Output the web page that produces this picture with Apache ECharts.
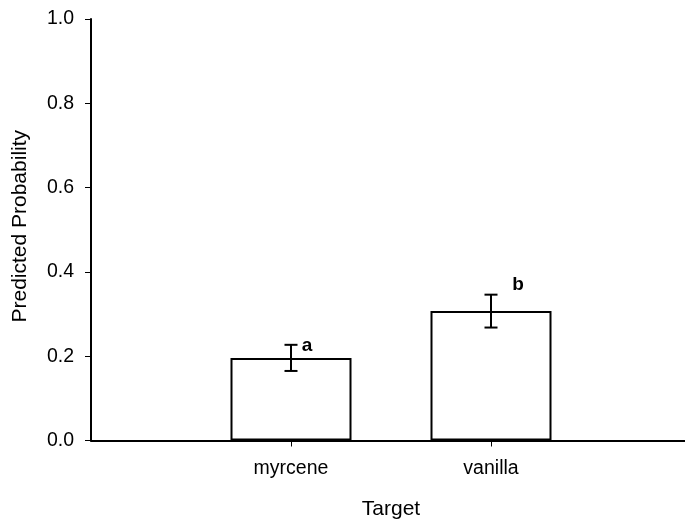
<!DOCTYPE html>
<html>
<head>
<meta charset="utf-8">
<style>
  html, body { margin: 0; padding: 0; background: #fff; }
  #chart { width: 685px; height: 521px; }
</style>
<script src="https://cdn.jsdelivr.net/npm/echarts@6/dist/echarts.min.js"></script>
</head>
<body>
<div id="chart"></div>
<script>
// Target categories (blank slots pad the axis on both ends)
const categories = ['', 'myrcene', 'vanilla', ''];
// Predicted probability for each target
const probabilities = [null, 0.196, 0.307, null];
// Standard error for each target
const stdErrors = [null, 0.031, 0.039, null];
// Significance letters
const groupLetters = [null, 'a', 'b', null];
// Y-axis tick values
const yTicks = [0, 0.2, 0.4, 0.6, 0.8, 1.0];

// Letter placement relative to the top of each error bar, in pixels
const letterOffsets = [null, [16, 1], [27, -10], null];

const FONT = "'Liberation Sans', Arial, sans-serif";
const chart = echarts.init(document.getElementById('chart'));

const errorData = categories.map((c, i) =>
  probabilities[i] == null ? null : [i, probabilities[i] - stdErrors[i], probabilities[i] + stdErrors[i]]
).filter(d => d);

chart.setOption({
  animation: false,
  backgroundColor: '#fff',
  textStyle: { fontFamily: FONT, color: '#000' },
  grid: { left: 91, top: 19, width: 600, bottom: 80.5, containLabel: false, outerBoundsMode: 'none' },
  xAxis: {
    type: 'category',
    data: categories,
    boundaryGap: false,
    name: 'Target',
    nameLocation: 'middle',
    nameGap: 58,
    nameTextStyle: { fontSize: 21, color: '#000', fontFamily: FONT },
    axisLine: { lineStyle: { color: '#000', width: 2 } },
    axisTick: {
      length: 6,
      lineStyle: { color: '#000', width: 1 },
      interval: (idx, val) => val !== ''
    },
    axisLabel: { interval: 0, margin: 18, fontSize: 19.5, color: '#000', fontFamily: FONT },
    splitLine: { show: false }
  },
  yAxis: {
    type: 'value',
    min: yTicks[0],
    max: yTicks[yTicks.length - 1],
    interval: yTicks[1] - yTicks[0],
    name: 'Predicted Probability',
    nameLocation: 'middle',
    nameGap: 60,
    nameTextStyle: { fontSize: 21, color: '#000', fontFamily: FONT, padding: [0, 0, 0, 7] },
    axisLine: { show: true, lineStyle: { color: '#000', width: 2 } },
    axisTick: { show: true, length: 6, lineStyle: { color: '#000', width: 1 } },
    axisLabel: { margin: 17, fontSize: 19.5, color: '#000', fontFamily: FONT, formatter: v => v.toFixed(1) },
    splitLine: { show: false }
  },
  series: [
    {
      type: 'bar',
      data: probabilities.map(v => (v == null ? '-' : v)),
      barWidth: 121,
      itemStyle: { color: '#fff', borderColor: '#000', borderWidth: 2 },
      z: 2
    },
    {
      type: 'custom',
      data: errorData,
      z: 3,
      renderItem: (params, api) => {
        const idx = api.value(0);
        const lo = api.coord([idx, api.value(1)]);
        const hi = api.coord([idx, api.value(2)]);
        const cap = 6.5;
        const style = { stroke: '#000', lineWidth: 2 };
        const children = [
          { type: 'line', shape: { x1: hi[0], y1: hi[1], x2: lo[0], y2: lo[1] }, style },
          { type: 'line', shape: { x1: hi[0] - cap, y1: hi[1], x2: hi[0] + cap, y2: hi[1] }, style },
          { type: 'line', shape: { x1: lo[0] - cap, y1: lo[1], x2: lo[0] + cap, y2: lo[1] }, style }
        ];
        const letter = groupLetters[idx];
        if (letter) {
          const off = letterOffsets[idx];
          children.push({
            type: 'text',
            style: {
              x: hi[0] + off[0], y: hi[1] + off[1],
              text: letter,
              fill: '#000',
              font: 'bold 19px ' + FONT,
              align: 'center',
              verticalAlign: 'middle'
            }
          });
        }
        return { type: 'group', children };
      }
    }
  ]
});
</script>
</body>
</html>
